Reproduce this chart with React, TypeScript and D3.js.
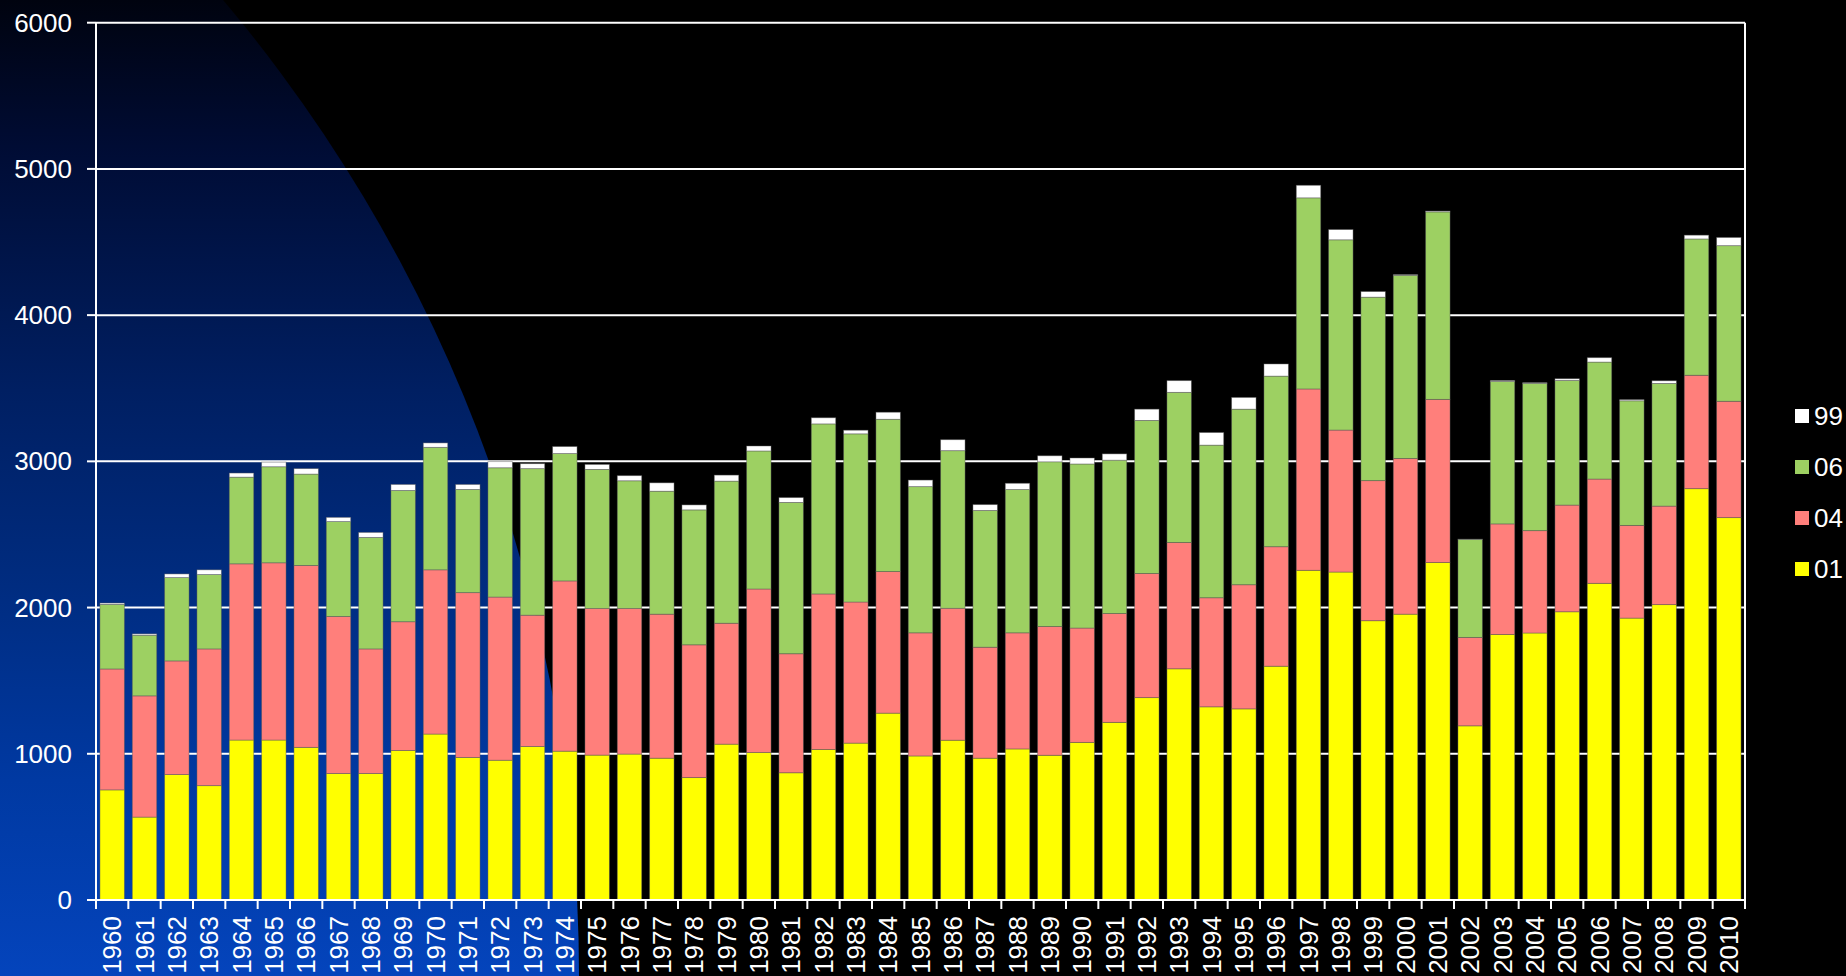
import React, { useEffect } from "react";
import * as d3 from "d3";

const years: string[] = [
  "1960","1961","1962","1963","1964","1965","1966","1967","1968","1969",
  "1970","1971","1972","1973","1974","1975","1976","1977","1978","1979",
  "1980","1981","1982","1983","1984","1985","1986","1987","1988","1989",
  "1990","1991","1992","1993","1994","1995","1996","1997","1998","1999",
  "2000","2001","2002","2003","2004","2005","2006","2007","2008","2009","2010",
];

const s01: number[] = [
  753, 567, 858, 782, 1094, 1094, 1044, 865, 865, 1023,
  1135, 975, 956, 1050, 1018, 991, 998, 970, 837, 1066,
  1009, 870, 1030, 1073, 1278, 985, 1093, 970, 1033, 990,
  1078, 1215, 1384, 1581, 1321, 1307, 1599, 2255, 2243, 1910,
  1955, 2308, 1191, 1816, 1826, 1971, 2166, 1928, 2020, 2813, 2615,
];
const s04: number[] = [
  827, 829, 777, 935, 1205, 1212, 1244, 1074, 852, 880,
  1123, 1127, 1116, 898, 1164, 1003, 996, 985, 908, 827,
  1118, 814, 1063, 965, 968, 842, 902, 759, 794, 880,
  782, 744, 849, 864, 746, 849, 817, 1240, 971, 958,
  1065, 1116, 605, 756, 700, 730, 713, 634, 674, 776, 796,
];
const s06: number[] = [
  442, 415, 570, 509, 593, 657, 625, 649, 763, 898,
  838, 706, 884, 1002, 871, 951, 873, 841, 923, 972,
  944, 1035, 1163, 1150, 1042, 1000, 1078, 935, 980, 1127,
  1122, 1049, 1047, 1027, 1044, 1201, 1167, 1307, 1301, 1255,
  1252, 1282, 670, 974, 1007, 852, 800, 852, 839, 932, 1064,
];
const s99: number[] = [
  9, 9, 25, 32, 28, 32, 37, 29, 34, 41,
  30, 34, 42, 34, 48, 34, 35, 57, 34, 41,
  34, 33, 42, 25, 48, 45, 75, 40, 43, 41,
  41, 43, 77, 80, 86, 80, 83, 86, 70, 38,
  5, 6, 2, 7, 5, 12, 30, 8, 18, 26, 56,
];

const seriesNames: string[] = ["01", "04", "06", "99"];
const seriesColors: string[] = ["#ffff00", "#ff7f7b", "#9dd062", "#ffffff"];
const yTicks: number[] = [0, 1000, 2000, 3000, 4000, 5000, 6000];

const W = 1846;
const H = 976;
const PL = 96;
const PR = 1745;
const PT = 22.7;
const PB = 900;

export default function App() {
  useEffect(() => {
    document.body.style.margin = "0";
    document.body.style.overflow = "hidden";
  }, []);

  const x = d3.scaleBand<string>().domain(years).range([PL, PR]).paddingInner(0.245).paddingOuter(0.1225);
  const y = d3.scaleLinear().domain([0, 6000]).range([PB, PT]);

  const table = years.map((yr, i) => ({ year: yr, "01": s01[i], "04": s04[i], "06": s06[i], "99": s99[i] }));
  const stacked = d3.stack<any>().keys(seriesNames)(table);

  const step = (PR - PL) / years.length;
  const boundaries = d3.range(years.length + 1).map((i) => PL + i * step);

  const font = "'Liberation Sans', Arial, sans-serif";

  return (
    <svg width={W} height={H} style={{ position: "absolute", left: 0, top: 0, display: "block" }}>
      <defs>
        <linearGradient id="bluegrad" gradientUnits="userSpaceOnUse" x1="0" y1="0" x2="0" y2={H}>
          <stop offset="0" stopColor="#00030f" />
          <stop offset="0.15" stopColor="#000c34" />
          <stop offset="0.4" stopColor="#001f62" />
          <stop offset="0.6" stopColor="#002c80" />
          <stop offset="0.8" stopColor="#0039a2" />
          <stop offset="1" stopColor="#0444bc" />
        </linearGradient>
      </defs>
      <rect x={0} y={0} width={W} height={H} fill="#000000" />
      <circle cx={-937} cy={976} r={1516} fill="url(#bluegrad)" />

      {yTicks.map((t) => (
        <line key={"g" + t} x1={PL} x2={PR} y1={y(t)} y2={y(t)} stroke="#ffffff" strokeWidth={2} />
      ))}
      <line x1={PR} x2={PR} y1={PT} y2={PB} stroke="#ffffff" strokeWidth={2} />

      {stacked.map((layer, si) => (
        <g key={seriesNames[si]}>
          {layer.map((d: any, i: number) => {
            const h = y(d[0]) - y(d[1]);
            if (h <= 0) return null;
            return (
              <rect
                key={i}
                x={x(years[i])}
                y={y(d[1])}
                width={x.bandwidth()}
                height={h}
                fill={seriesColors[si]}
                stroke="#5a5a5a"
                strokeOpacity={0.55}
                strokeWidth={0.8}
              />
            );
          })}
        </g>
      ))}

      <line x1={PL} x2={PL} y1={PT} y2={PB} stroke="#ffffff" strokeWidth={2} />
      <line x1={PL - 9} x2={PR} y1={PB} y2={PB} stroke="#ffffff" strokeWidth={2} />
      {yTicks.map((t) => (
        <g key={"yt" + t}>
          <line x1={PL - 9} x2={PL} y1={y(t)} y2={y(t)} stroke="#ffffff" strokeWidth={2} />
          <text
            x={72}
            y={y(t)}
            fill="#ffffff"
            fontFamily={font}
            fontSize={26}
            textAnchor="end"
            dominantBaseline="central"
          >
            {t}
          </text>
        </g>
      ))}
      {boundaries.map((bx, i) => (
        <line key={"xt" + i} x1={bx} x2={bx} y1={PB} y2={PB + 9} stroke="#ffffff" strokeWidth={2} />
      ))}
      {years.map((yr) => {
        const cx = (x(yr) as number) + x.bandwidth() / 2;
        return (
          <text
            key={"xl" + yr}
            transform={`translate(${cx},${916}) rotate(-90)`}
            fill="#ffffff"
            fontFamily={font}
            fontSize={26}
            textAnchor="end"
            dominantBaseline="central"
          >
            {yr}
          </text>
        );
      })}

      {["99", "06", "04", "01"].map((name, i) => {
        const si = seriesNames.indexOf(name);
        const cy = 416 + i * 51;
        return (
          <g key={"lg" + name}>
            <rect x={1795} y={cy - 7} width={14} height={14} fill={seriesColors[si]} />
            <text x={1814} y={cy} fill="#ffffff" fontFamily={font} fontSize={26} dominantBaseline="central">
              {name}
            </text>
          </g>
        );
      })}
    </svg>
  );
}
